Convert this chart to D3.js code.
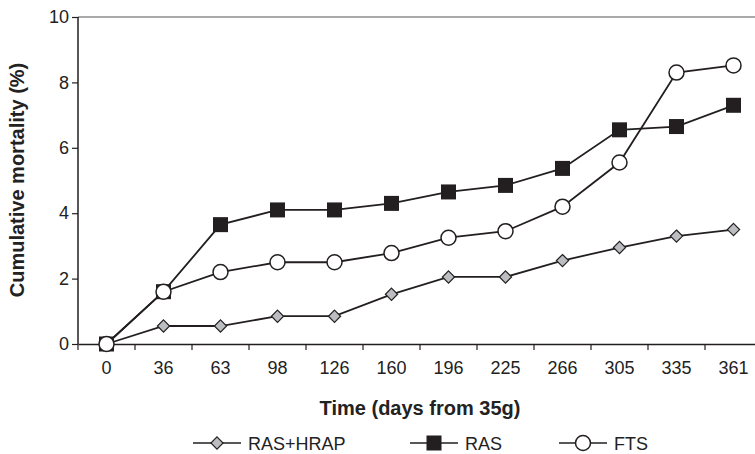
<!DOCTYPE html>
<html>
<head>
<meta charset="utf-8">
<script src="https://cdn.jsdelivr.net/npm/d3@7"></script>
<style>
  body { margin: 0; background: #fff; }
  svg { font-family: "Liberation Sans", Arial, sans-serif; }
</style>
</head>
<body>
<svg width="755" height="454"></svg>
<script>
var days = ["0", "36", "63", "98", "126", "160", "196", "225", "266", "305", "335", "361"];
var rasHrap = [0, 0.55, 0.55, 0.85, 0.85, 1.52, 2.05, 2.05, 2.55, 2.95, 3.3, 3.5];
var ras = [0, 1.6, 3.65, 4.1, 4.1, 4.3, 4.65, 4.85, 5.37, 6.55, 6.65, 7.3];
var fts = [0, 1.6, 2.2, 2.5, 2.5, 2.78, 3.25, 3.45, 4.2, 5.55, 8.3, 8.52];
var yTicks = [0, 2, 4, 6, 8, 10];

var svg = d3.select("svg"),
    margin = {top: 17, left: 78},
    h = 344 - margin.top;

var xScale = d3.scaleBand().domain(days).range([0, 684]),
    yScale = d3.scaleLinear().domain([0, 10]).range([h, 0]);

var g = svg.append("g")
    .attr("transform", "translate(" + margin.left + "," + margin.top + ")");

var ink = "#231f20";

// top frame line
g.append("line")
    .attr("x1", 0).attr("x2", 700)
    .attr("y1", 0).attr("y2", 0)
    .attr("stroke", "#555").attr("stroke-width", 1.2);

var xAxis = g.append("g")
    .attr("transform", "translate(0," + h + ")")
    .call(d3.axisBottom(xScale).tickSize(0).tickPadding(17));
xAxis.select(".domain").attr("stroke", ink).attr("stroke-width", 1.5);
xAxis.selectAll(".tick text").attr("font-size", "18px").attr("fill", "#222").attr("font-family", "Liberation Sans, Arial, sans-serif");

// ticks between categories
g.selectAll(".xsep")
    .data(days)
    .enter().append("line")
      .attr("x1", function(d) { return xScale(d); })
      .attr("x2", function(d) { return xScale(d); })
      .attr("y1", h).attr("y2", h + 6)
      .attr("stroke", ink).attr("stroke-width", 1.2);

var yAxis = g.append("g")
    .call(d3.axisLeft(yScale).tickValues(yTicks).tickSize(6).tickPadding(3));
yAxis.select(".domain").attr("stroke", ink).attr("stroke-width", 1.5).attr("d", "M0," + h + "V0");
yAxis.selectAll(".tick line").attr("stroke", ink).attr("stroke-width", 1.2);
yAxis.selectAll(".tick text").attr("font-size", "18px").attr("fill", "#222").attr("font-family", "Liberation Sans, Arial, sans-serif");

svg.append("text")
    .attr("x", 420).attr("y", 415)
    .attr("text-anchor", "middle")
    .attr("font-weight", "bold")
    .attr("font-size", "20px")
    .attr("fill", "#222")
    .text("Time (days from 35g)");

svg.append("text")
    .attr("transform", "translate(24,180) rotate(-90)")
    .attr("text-anchor", "middle")
    .attr("font-weight", "bold")
    .attr("font-size", "20px")
    .attr("fill", "#222")
    .text("Cumulative mortality (%)");

var cx = function(i) { return xScale(days[i]) + xScale.bandwidth() / 2; };
var line = d3.line()
    .x(function(d, i) { return cx(i); })
    .y(function(d) { return yScale(d); });

function drawMarker(sel, type, x, y) {
  if (type === "diamond") {
    sel.append("path")
      .attr("d", d3.symbol().type(d3.symbolDiamond2).size(95)())
      .attr("transform", "translate(" + x + "," + y + ")")
      .attr("fill", "#bcbdc0").attr("stroke", ink).attr("stroke-width", 1.2);
  } else if (type === "square") {
    sel.append("rect")
      .attr("x", x - 7.5).attr("y", y - 7.5)
      .attr("width", 15).attr("height", 15)
      .attr("fill", ink);
  } else {
    sel.append("circle")
      .attr("cx", x).attr("cy", y).attr("r", 7.5)
      .attr("fill", "#fff").attr("stroke", ink).attr("stroke-width", 1.5);
  }
}

var series = [
  {name: "RAS+HRAP", values: rasHrap, type: "diamond"},
  {name: "RAS", values: ras, type: "square"},
  {name: "FTS", values: fts, type: "circle"}
];

series.forEach(function(s) {
  g.append("path")
    .datum(s.values)
    .attr("fill", "none")
    .attr("stroke", ink)
    .attr("stroke-width", 1.8)
    .attr("d", line);
  var mg = g.append("g");
  s.values.forEach(function(v, i) { drawMarker(mg, s.type, cx(i), yScale(v)); });
});

// legend (marker centres)
var legendX = [217, 434, 583];
series.forEach(function(s, i) {
  var lg = svg.append("g").attr("transform", "translate(" + legendX[i] + ",443)");
  lg.append("line").attr("x1", -24).attr("x2", 24).attr("y1", 0).attr("y2", 0)
    .attr("stroke", ink).attr("stroke-width", 1.5);
  drawMarker(lg, s.type, 0, 0);
  lg.append("text")
    .attr("x", 31).attr("y", 6.5)
    .attr("font-size", "18px")
    .attr("fill", "#222")
    .text(s.name);
});
</script>
</body>
</html>
